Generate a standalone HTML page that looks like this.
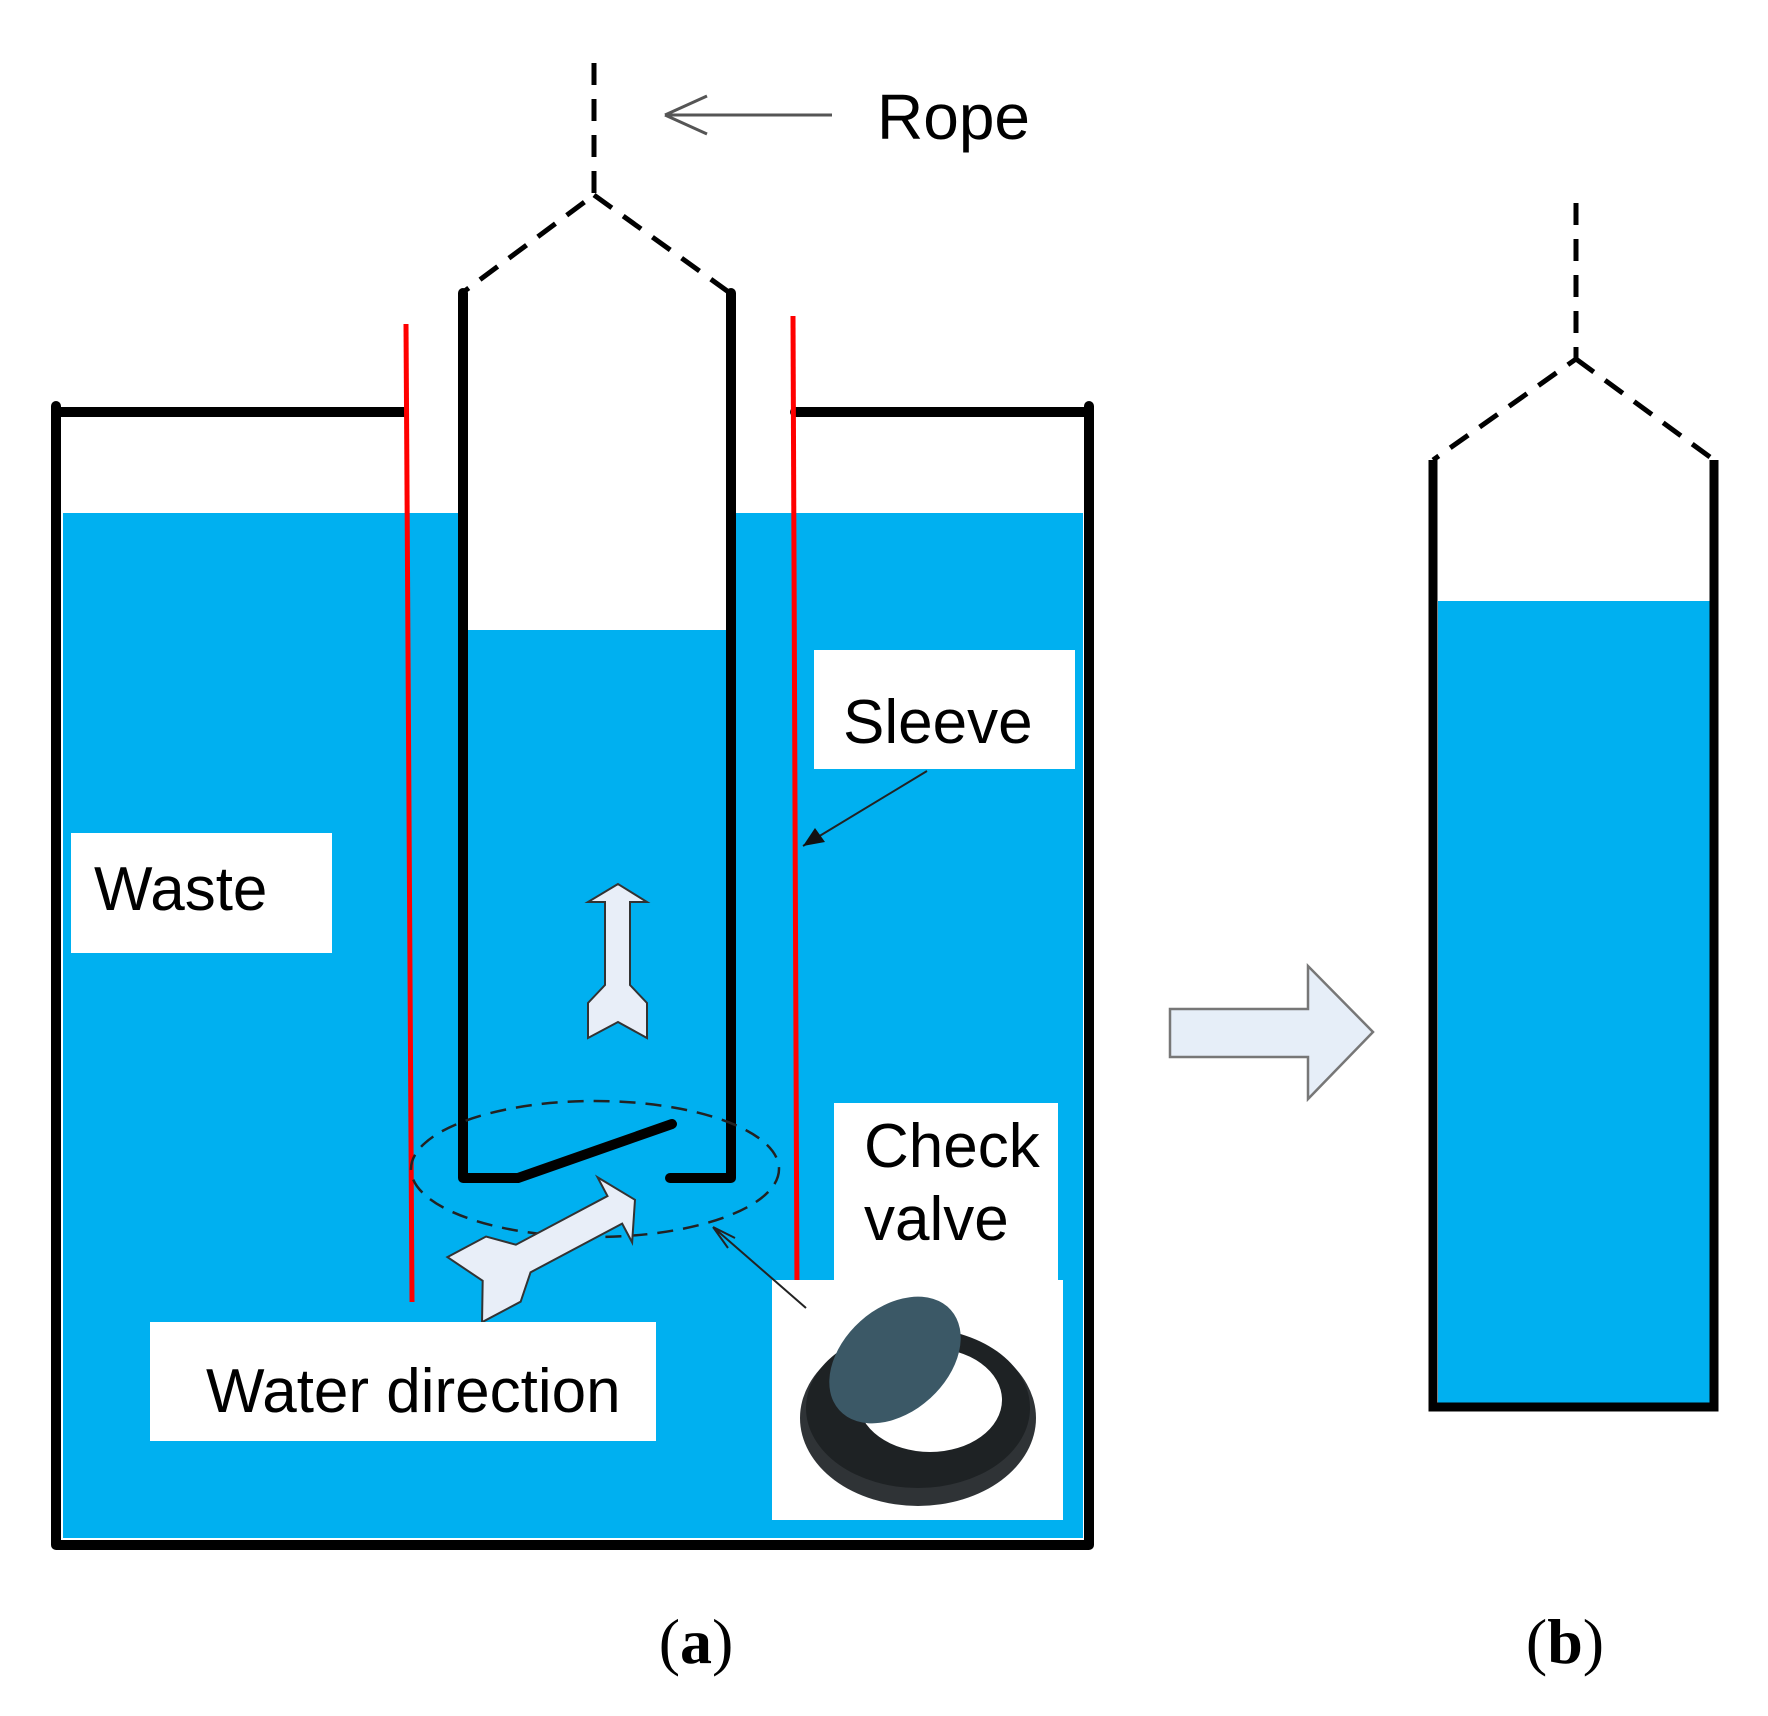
<!DOCTYPE html>
<html><head><meta charset="utf-8"><style>html,body{margin:0;padding:0;background:#fff}svg{display:block}</style></head><body>
<svg width="1768" height="1716" viewBox="0 0 1768 1716" xmlns="http://www.w3.org/2000/svg" font-family="Liberation Sans, sans-serif">
<!-- tank water -->
<rect x="63" y="513" width="1020" height="1025" fill="#00b0f0"/>
<!-- inner tube white top -->
<rect x="466" y="290" width="260" height="340" fill="#fff"/>
<rect x="466" y="513" width="260" height="117" fill="#fff"/>
<!-- tank -->
<path d="M56 406 V1545 H1089 V406" fill="none" stroke="#000" stroke-width="10" stroke-linejoin="round" stroke-linecap="round"/>
<path d="M56 412 H404 M795 412 H1089" stroke="#000" stroke-width="10" stroke-linecap="round"/>
<!-- red sleeves -->
<path d="M406 324 L412 1302" stroke="#f00" stroke-width="5"/>
<path d="M793 316 L797 1297" stroke="#f00" stroke-width="5"/>
<!-- rope a -->
<path d="M594 63 V195 L462 293 M594 195 L730 293" fill="none" stroke="#000" stroke-width="5" stroke-dasharray="22,14"/>
<!-- inner tube -->
<path d="M463 293 V1178 H518 L672 1124" fill="none" stroke="#000" stroke-width="10" stroke-linejoin="round" stroke-linecap="round"/>
<path d="M670 1178 H731 V293" fill="none" stroke="#000" stroke-width="10" stroke-linejoin="round" stroke-linecap="round"/>
<!-- rope arrow -->
<path d="M665 115 H832 M665 115 L707 96 M665 115 L707 134" stroke="#555" stroke-width="3" fill="none"/>
<text x="877" y="139" font-size="64">Rope</text>
<!-- dashed ellipse -->
<ellipse cx="595" cy="1169" rx="184" ry="68" fill="none" stroke="#222" stroke-width="2.5" stroke-dasharray="16,10"/>
<!-- up arrow -->
<polygon id="ua" points="618,884 588,902 605,902 605,985 588,1003 588,1038 618,1022 647,1038 647,1003 630,985 630,902 647,902" fill="#e8eef8" stroke="#333" stroke-width="2"/>
<!-- diagonal arrow -->
<g transform="translate(550,1245) rotate(62) scale(1.25) translate(-618,-961)">
<polygon points="618,884 588,902 605,902 605,985 588,1003 588,1038 618,1022 647,1038 647,1003 630,985 630,902 647,902" fill="#e8eef8" stroke="#333" stroke-width="1.6"/>
</g>
<!-- labels -->
<rect x="71" y="833" width="261" height="120" fill="#fff"/>
<text x="94" y="910" font-size="62">Waste</text>
<rect x="814" y="650" width="261" height="119" fill="#fff"/>
<text x="843" y="743" font-size="62">Sleeve</text>
<path d="M927 771 L803 846" stroke="#222" stroke-width="2"/>
<polygon points="803,846 815,828 825,842" fill="#111"/>
<rect x="150" y="1322" width="506" height="119" fill="#fff"/>
<text x="206" y="1412" font-size="62">Water direction</text>
<rect x="834" y="1103" width="224" height="180" fill="#fff"/>
<rect x="772" y="1280" width="291" height="240" fill="#fff"/>
<text x="864" y="1167" font-size="62">Check</text>
<text x="864" y="1240" font-size="62">valve</text>
<path d="M806 1308 L713 1227 M713 1227 L728 1248 M713 1227 L735 1238" stroke="#222" stroke-width="2" fill="none"/>
<!-- check valve photo -->
<ellipse cx="918" cy="1418" rx="118" ry="88" fill="#2f3336"/>
<ellipse cx="918" cy="1408" rx="112" ry="80" fill="#1e2224"/>
<ellipse cx="930" cy="1400" rx="72" ry="52" fill="#fff"/>
<ellipse cx="895" cy="1360" rx="75" ry="52" transform="rotate(-42 895 1360)" fill="#3b5866"/>
<!-- big arrow -->
<polygon points="1170,1009 1308,1009 1308,966 1373,1032 1308,1099 1308,1057 1170,1057" fill="#e6eef8" stroke="#777" stroke-width="2.5"/>
<!-- tube b -->
<rect x="1438" y="601" width="272" height="804" fill="#00b0f0"/>
<path d="M1433 460 V1407 H1714 V460" fill="none" stroke="#000" stroke-width="9"/>
<path d="M1576 203 V359 L1433 460 M1576 359 L1714 460" fill="none" stroke="#000" stroke-width="5" stroke-dasharray="22,14"/>
<text x="696" y="1663" font-size="64" text-anchor="middle" font-family="Liberation Serif, serif">(<tspan font-weight="bold">a</tspan>)</text>
<text x="1565" y="1663" font-size="64" text-anchor="middle" font-family="Liberation Serif, serif">(<tspan font-weight="bold">b</tspan>)</text>
</svg>
</body></html>
